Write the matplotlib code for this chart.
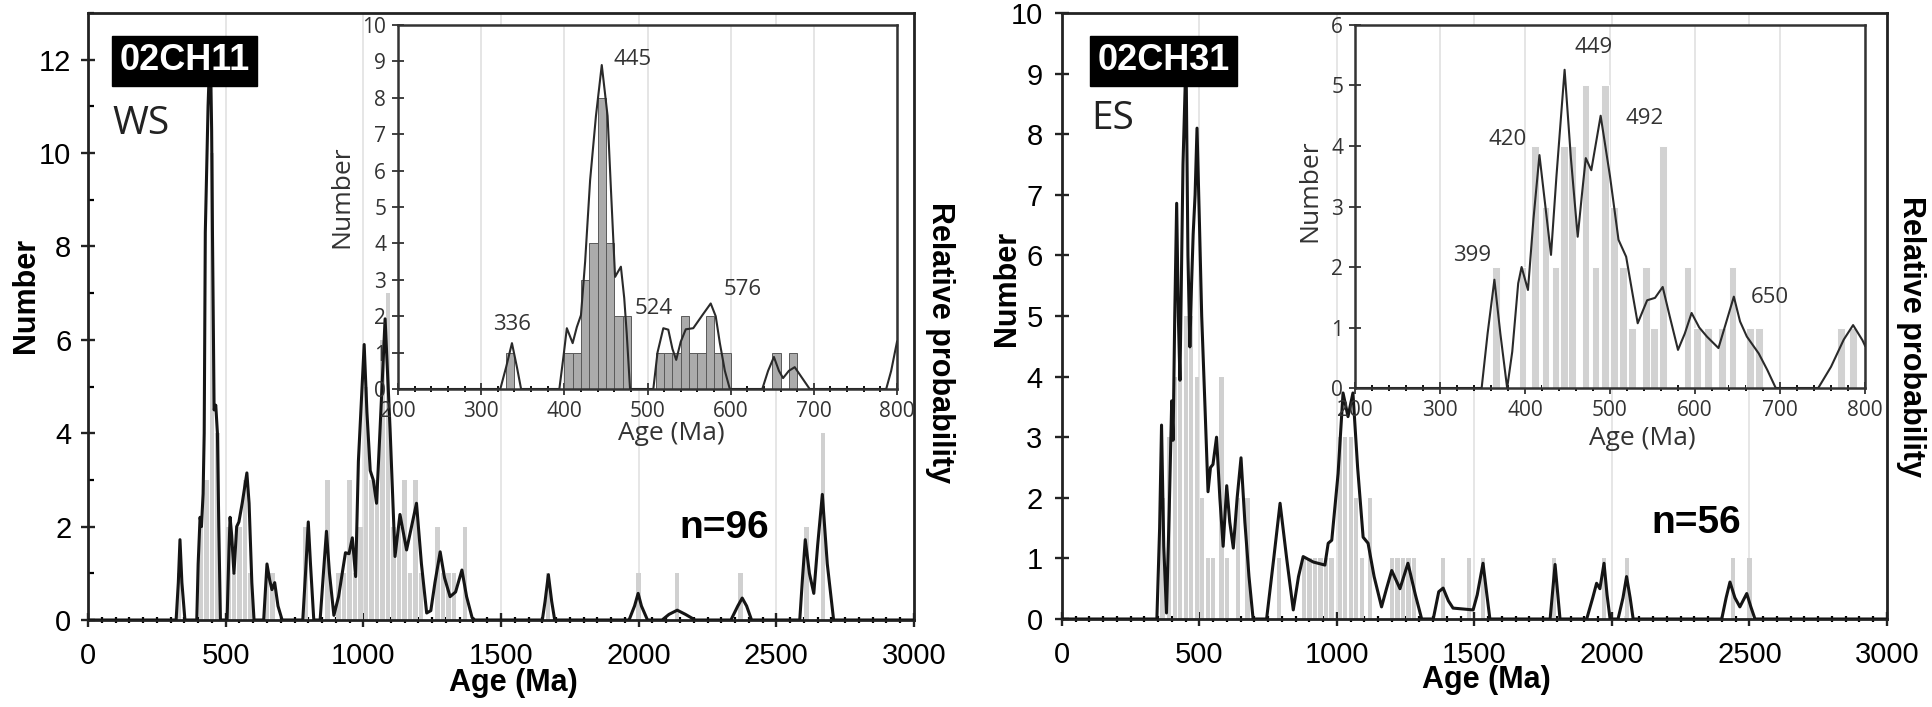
import numpy as np
import matplotlib
matplotlib.use('Agg')
import matplotlib.pyplot as plt
from matplotlib.ticker import MultipleLocator

# ---------------- 02CH11 (WS) ----------------
ws_sample = '02CH11'
ws_region = 'WS'
ws_n = 'n=96'
# probability curve, (age Ma, value)
ws_pdp = np.array([
    (0, 0), (320, 0), (328, 0.8), (334, 1.72), (341, 0.8), (352, 0),
    (395, 0), (400, 1.2), (407, 2.2), (412, 2.0), (418, 2.7), (422, 4.0), (426, 8.3),
    (436, 11.0), (444, 12.4), (449, 10.5), (452, 8.3), (458, 4.5), (464, 4.6), (470, 4.0),
    (475, 2.0), (481, 0),
    (505, 0), (512, 1.5), (516, 2.2), (522, 1.8), (530, 1.0), (540, 2.0), (548, 2.1),
    (560, 2.5), (577, 3.15), (585, 2.5), (595, 0.8), (603, 0),
    (638, 0), (650, 1.2), (660, 0.85), (668, 0.65), (678, 0.8), (690, 0.3), (705, 0),
    (780, 0), (790, 1.0), (800, 2.1), (808, 1.2), (820, 0),
    (843, 0), (855, 1.0), (866, 1.9), (877, 1.0), (893, 0.1), (910, 0.5), (935, 1.44),
    (948, 1.42), (960, 1.76), (972, 0.93), (982, 3.4), (1003, 5.9), (1013, 4.45),
    (1025, 3.2), (1036, 3.0), (1048, 2.5), (1060, 4.0), (1079, 6.45), (1097, 4.1),
    (1115, 1.36), (1133, 2.26), (1157, 1.5), (1193, 2.5), (1211, 1.2), (1230, 0.15),
    (1245, 0.2), (1260, 0.8), (1279, 1.46), (1295, 0.9), (1315, 0.5), (1335, 0.6),
    (1358, 1.07), (1375, 0.5), (1395, 0.05), (1405, 0),
    (1650, 0), (1660, 0.4), (1672, 0.97), (1684, 0.4), (1695, 0),
    (1965, 0), (1985, 0.3), (1998, 0.57), (2010, 0.3), (2032, 0),
    (2085, 0), (2110, 0.12), (2140, 0.21), (2170, 0.12), (2205, 0),
    (2335, 0), (2360, 0.3), (2376, 0.47), (2392, 0.3), (2410, 0),
    (2585, 0), (2595, 0.9), (2605, 1.72), (2620, 1.0), (2636, 0.57), (2650, 1.6),
    (2667, 2.69), (2685, 1.2), (2708, 0), (3000, 0)])
ws_bar_age = [330, 410, 430, 450, 470, 510, 530, 550, 570, 590, 650, 670, 790, 870, 910,
              930, 950, 970, 990, 1010, 1030, 1050, 1070, 1090, 1110, 1130, 1150, 1170,
              1190, 1210, 1270, 1290, 1310, 1330, 1370, 1670, 2000, 2140, 2370, 2610, 2670]
ws_bar_n = [1, 2, 3, 10, 4, 2, 1, 2, 3, 1, 1, 1, 2, 3, 1,
            1, 3, 1, 2, 5, 3, 3, 6, 7, 2, 2, 3, 1,
            3, 1, 2, 1, 1, 1, 2, 1, 1, 1, 1, 2, 4]
# inset 200-800 Ma
ws_inset_pdp = np.array([
    (200, 0), (323, 0), (330, 0.6), (337, 1.26), (343, 0.6), (348, 0),
    (394, 0), (399, 0.9), (403, 1.67), (410, 1.26), (415, 1.7), (420, 2.03), (425, 3.5),
    (431, 5.74), (438, 7.5), (445, 8.9), (452, 7.5), (456, 5.5), (461, 3.08), (464, 3.2),
    (468, 3.36), (472, 2.5), (475, 1.53), (479, 0),
    (507, 0), (512, 1.0), (519, 1.67), (525, 1.63), (530, 1.1), (534.5, 0.8), (540, 1.3),
    (546, 1.64), (555, 1.67), (566, 2.03), (576, 2.35), (582, 2.0), (587, 1.26),
    (593, 0.5), (599, 0),
    (638, 0), (645, 0.5), (652, 0.88), (658, 0.5), (663, 0.3), (670, 0.5), (677, 0.6),
    (686, 0.3), (695, 0),
    (787, 0), (793, 0.5), (800, 1.3)])
ws_inset_bar_age = [335, 405, 415, 425, 435, 445, 455, 465, 475, 515, 525, 535, 545, 555,
                    565, 575, 585, 595, 655, 675]
ws_inset_bar_n = [1, 1, 1, 3, 4, 8, 4, 2, 2, 1, 1, 1, 2, 1, 1, 2, 1, 1, 1, 1]
ws_peak_labels = ['336', '445', '524', '576']

# ---------------- 02CH31 (ES) ----------------
es_sample = '02CH31'
es_region = 'ES'
es_n = 'n=56'
es_pdp = np.array([
    (0, 0), (345, 0), (355, 1.5), (362, 3.2), (370, 1.2), (380, 0.1), (390, 1.8),
    (399, 3.6), (404, 2.95), (410, 5.0), (417, 6.86), (423, 5.0), (429, 3.94), (440, 7.5),
    (451, 9.3), (458, 6.0), (465, 4.49), (471, 5.5), (477, 6.35), (484, 7.0), (491, 8.1),
    (500, 6.5), (508, 5.0), (520, 3.5), (531, 2.1), (540, 2.5), (549, 2.55), (562, 3.0),
    (574, 2.0), (586, 1.2), (599, 2.2), (610, 1.6), (623, 1.17), (637, 2.0), (651, 2.66),
    (665, 1.6), (680, 0.7), (695, 0),
    (744, 0), (770, 1.0), (793, 1.91), (817, 1.0), (841, 0.15), (860, 0.7), (877, 1.03),
    (914, 0.94), (956, 0.89), (968, 1.25), (981, 1.3), (1004, 2.4), (1022, 3.73),
    (1040, 3.34), (1058, 3.73), (1075, 2.5), (1095, 1.35), (1113, 1.25), (1135, 0.7),
    (1162, 0.2), (1180, 0.5), (1199, 0.8), (1229, 0.5), (1258, 0.92), (1285, 0.4), (1308, 0),
    (1350, 0), (1370, 0.45), (1386, 0.51), (1405, 0.3), (1422, 0.18), (1495, 0.15),
    (1510, 0.4), (1531, 0.92), (1545, 0.4), (1556, 0),
    (1775, 0), (1784, 0.45), (1793, 0.9), (1802, 0.45), (1811, 0),
    (1908, 0), (1930, 0.35), (1944, 0.59), (1956, 0.5), (1971, 0.92), (1982, 0.4),
    (1993, 0), (2022, 0), (2040, 0.35), (2053, 0.7), (2066, 0.35), (2077, 0),
    (2399, 0), (2415, 0.35), (2429, 0.61), (2447, 0.35), (2465, 0.2), (2490, 0.42),
    (2505, 0.2), (2520, 0), (3000, 0)])
es_bar_age = [365, 390, 410, 430, 450, 470, 490, 510, 530, 550, 580, 600, 640, 675, 790,
              880, 900, 920, 940, 960, 980, 1010, 1030, 1050, 1070, 1090, 1120, 1200, 1220,
              1240, 1260, 1280, 1385, 1480, 1530, 1790, 1970, 2055, 2440, 2500]
es_bar_n = [2, 3, 4, 4, 5, 5, 4, 2, 1, 1, 4, 1, 2, 2, 1,
            1, 1, 1, 1, 1, 1, 3, 3, 3, 2, 1, 2, 1, 1,
            1, 1, 1, 1, 1, 1, 1, 1, 1, 1, 1]
es_inset_pdp = np.array([
    (200, 0), (349, 0), (356, 0.9), (364, 1.79), (371, 0.9), (379, 0), (385, 0.6),
    (392, 1.73), (396, 2.0), (403.5, 1.62), (410, 2.8), (417, 3.85), (424, 3.0),
    (430.6, 2.2), (437, 3.5), (446.6, 5.26), (454, 3.8), (462, 2.5), (467, 3.2),
    (471.5, 3.8), (478, 3.6), (489, 4.5), (500, 3.5), (510, 2.45), (519, 2.17), (526, 1.6),
    (532.6, 1.07), (543.7, 1.45), (553, 1.49), (562, 1.67), (570, 1.2), (580, 0.63),
    (588, 0.9), (596, 1.24), (605, 1.0), (614, 0.85), (627.6, 0.66), (637, 1.1),
    (645.7, 1.51), (653, 1.1), (661, 0.85), (675, 0.57), (685, 0.3), (695, 0),
    (745, 0), (760, 0.35), (775, 0.8), (786, 1.04), (797, 0.79), (800, 0.7)])
es_inset_bar_age = [366, 397, 412, 424, 436, 446, 455, 471, 483, 494, 505, 515, 526, 542,
                    552, 562, 591, 602, 615, 632, 644, 665, 675, 772, 786]
es_inset_bar_n = [2, 2, 4, 3, 2, 4, 4, 5, 2, 5, 3, 2, 1, 2, 1, 4, 2, 1, 1, 1, 2, 1, 1, 1, 1]
es_peak_labels = ['399', '420', '449', '492', '650']

MAIN_FONT = 'Liberation Sans'
INSET_FONT = 'Open Sans'
plt.rcParams['font.family'] = [MAIN_FONT, 'DejaVu Sans']

fig = plt.figure(figsize=(19.33, 7.07), dpi=100)


def main_panel(rect, pdp, bar_age, bar_n, ymax, ymajor, yminor, ypad):
    ax = fig.add_axes(rect)
    ax.bar(bar_age, bar_n, width=16, color='#d0d0d0', edgecolor='none', zorder=1)
    ax.plot(pdp[:, 0], pdp[:, 1], color='#151515', lw=2.2, zorder=3,
            solid_joinstyle='round')
    ax.set_xlim(0, 3000)
    ax.set_ylim(0, ymax)
    ax.xaxis.set_major_locator(MultipleLocator(500))
    ax.xaxis.set_minor_locator(MultipleLocator(50))
    ax.yaxis.set_major_locator(MultipleLocator(ymajor))
    if yminor:
        ax.yaxis.set_minor_locator(MultipleLocator(yminor))
    ax.set_axisbelow(True)
    ax.grid(axis='x', which='major', color='#e6e6e6', lw=1.4)
    for s in ax.spines.values():
        s.set_linewidth(2.0)
        s.set_color('#222222')
    ax.tick_params(which='major', direction='inout', length=10, width=1.7,
                   labelsize=21, color='#222222')
    ax.tick_params(axis='x', which='major', pad=11)
    ax.tick_params(axis='y', which='major', pad=ypad)
    ax.tick_params(axis='x', which='minor', direction='inout', length=4.5, width=1.6)
    ax.tick_params(axis='y', which='minor', direction='in', length=4.5, width=1.6)
    ax.set_xlabel('Age (Ma)', fontsize=22, fontweight='bold')
    ax.set_ylabel('Number', fontsize=22, fontweight='bold')
    ax.xaxis.label.set_va('center')
    ax.yaxis.label.set_va('center')
    return ax


def inset_panel(rect, pdp, bar_age, bar_n, ymax, bar_fc, bar_ec, bar_w):
    ax = fig.add_axes(rect)
    ax.set_facecolor('white')
    ax.bar(bar_age, bar_n, width=bar_w, color=bar_fc, edgecolor=bar_ec, lw=0.7, zorder=1)
    ax.plot(pdp[:, 0], pdp[:, 1], color='#2a2a2a', lw=1.5, zorder=3)
    ax.set_xlim(200, 800)
    ax.set_ylim(0, ymax)
    ax.xaxis.set_major_locator(MultipleLocator(100))
    ax.xaxis.set_minor_locator(MultipleLocator(20))
    ax.yaxis.set_major_locator(MultipleLocator(1))
    ax.set_axisbelow(True)
    ax.grid(axis='x', which='major', color='#e3e3e3', lw=1.3)
    for s in ax.spines.values():
        s.set_linewidth(1.8)
        s.set_color('#333333')
    ax.tick_params(which='major', direction='inout', length=9, width=1.3,
                   labelsize=15, color='#333333', labelcolor='#333333',
                   labelfontfamily=INSET_FONT)
    ax.tick_params(axis='x', which='major', pad=4)
    ax.tick_params(axis='y', which='major', pad=4)
    ax.tick_params(axis='x', which='minor', direction='inout', length=4, width=1.3)
    ax.set_xlabel('Age (Ma)', fontsize=19, family=INSET_FONT, color='#333333')
    ax.set_ylabel('Number', fontsize=19, family=INSET_FONT, color='#333333')
    ax.xaxis.label.set_va('center')
    ax.yaxis.label.set_va('center')
    return ax


def decorate(ax, sample, region, box_xy, region_xy):
    ax.text(box_xy[0], box_xy[1], sample, transform=ax.transAxes, ha='center', va='center',
            color='white', fontsize=26, fontweight='bold', zorder=10,
            bbox=dict(boxstyle='square,pad=0.2', fc='black', ec='black'))
    ax.text(region_xy[0], region_xy[1], region, transform=ax.transAxes, ha='left',
            va='center', fontsize=28, family=INSET_FONT, color='#222222')


# ---- left: 02CH11 ----
axl = main_panel([0.04553, 0.12306, 0.42732, 0.85856], ws_pdp, ws_bar_age, ws_bar_n,
                 13, 2, 1, 7)
axl.xaxis.set_label_coords(0.5145, -0.1038)
axl.yaxis.set_label_coords(-0.075, 0.534)
decorate(axl, ws_sample, ws_region, (0.117, 0.921), (0.029, 0.817))
axl.text(2311, 1.98, ws_n, ha='center', va='center', fontsize=28, fontweight='bold')
fig.text(0.4863, 0.5149, 'Relative probability', rotation=-90, ha='center', va='center',
         fontsize=22, fontweight='bold')

axli = inset_panel([0.2059, 0.44979, 0.25815, 0.51485], ws_inset_pdp, ws_inset_bar_age,
                   ws_inset_bar_n, 10, '#ababab', '#5a5a5a', 10)
axli.xaxis.set_label_coords(0.547, -0.121)
axli.yaxis.set_label_coords(-0.112, 0.527)
ws_label_xy = [(337.6, 1.76), (481.9, 9.04), (507.7, 2.22), (615, 2.72)]
for txt, (x, y) in zip(ws_peak_labels, ws_label_xy):
    axli.text(x, y, txt, ha='center', va='center', fontsize=16, family=INSET_FONT,
              color='#333333', zorder=5)

# ---- right: 02CH31 ----
axr = main_panel([0.5494, 0.12447, 0.4268, 0.85714], es_pdp, es_bar_age, es_bar_n,
                 10, 1, None, 9)
axr.xaxis.set_label_coords(0.5145, -0.10)
axr.yaxis.set_label_coords(-0.0667, 0.545)
decorate(axr, es_sample, es_region, (0.123, 0.921), (0.036, 0.825))
axr.text(2307, 1.58, es_n, ha='center', va='center', fontsize=28, fontweight='bold')
fig.text(0.98862, 0.5247, 'Relative probability', rotation=-90, ha='center', va='center',
         fontsize=22, fontweight='bold')

axri = inset_panel([0.70098, 0.45120, 0.26384, 0.51344], es_inset_pdp, es_inset_bar_age,
                   es_inset_bar_n, 6, '#d2d2d2', 'white', 9)
axri.xaxis.set_label_coords(0.563, -0.138)
axri.yaxis.set_label_coords(-0.088, 0.543)
es_label_xy = [(337.6, 2.19), (380, 4.1), (481, 5.62), (541, 4.46), (688, 1.5)]
for txt, (x, y) in zip(es_peak_labels, es_label_xy):
    axri.text(x, y, txt, ha='center', va='center', fontsize=16, family=INSET_FONT,
              color='#333333', zorder=5)

fig.savefig('out.png', dpi=100, facecolor='white')
